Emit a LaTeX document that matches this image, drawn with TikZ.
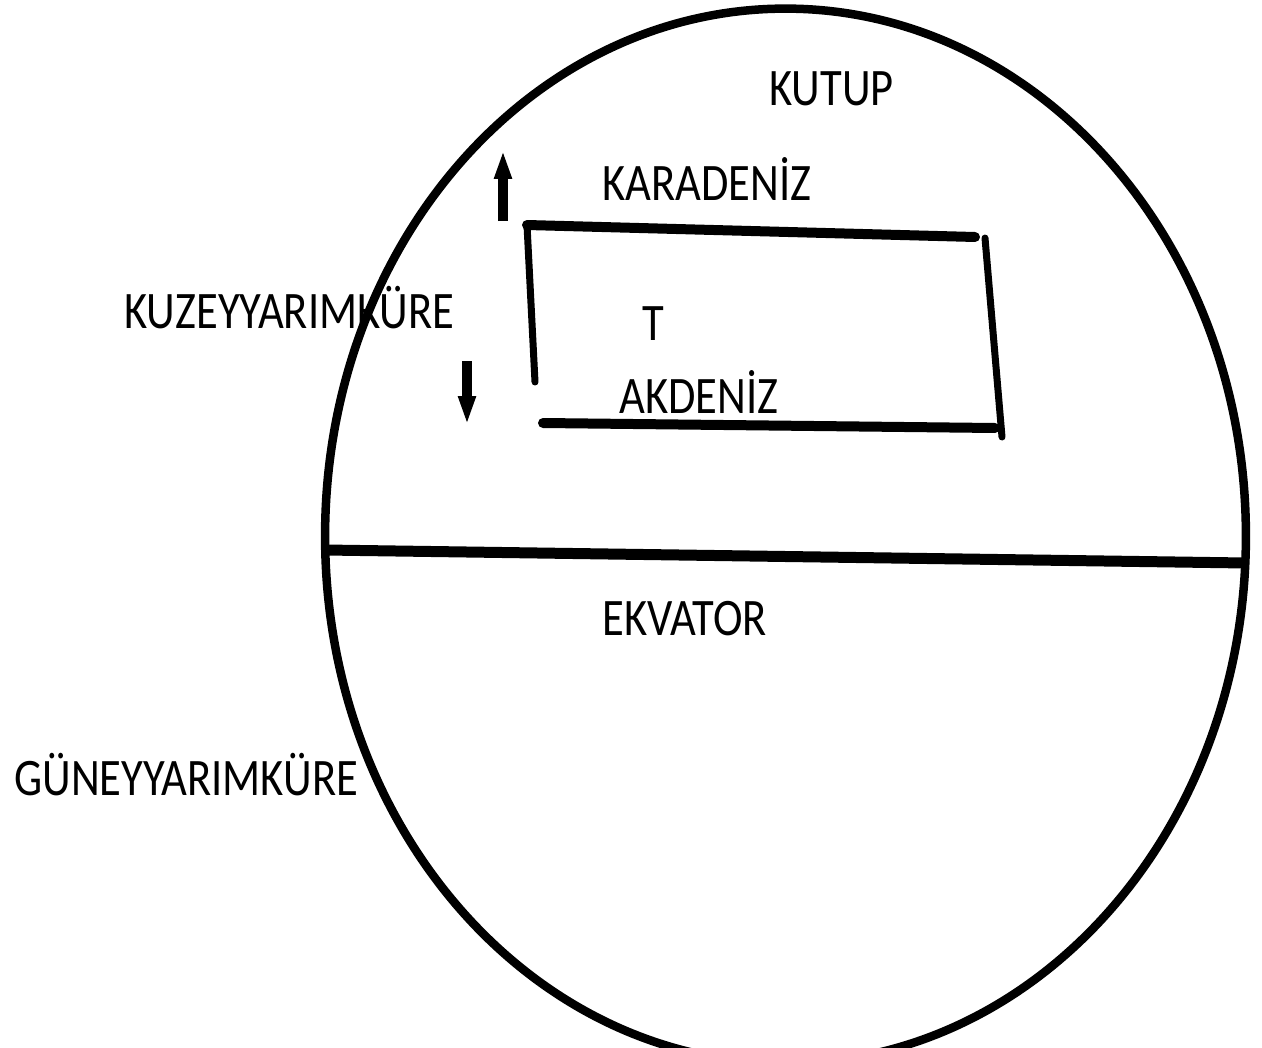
\documentclass[tikz,border=0pt]{standalone}
\usepackage{fontspec}
\newfontfamily\lblfont[FakeStretch=0.845]{Carlito}
\usetikzlibrary{arrows.meta,shapes.geometric}
\tikzset{
  lbl/.style={font=\lblfont\fontsize{30}{36}\selectfont, inner sep=0pt, anchor=base west},
  rim/.style={draw, ellipse, line width=0.17cm, inner sep=0pt},
  fat/.style={line width=0.2cm, line cap=round},
  slim/.style={line width=0.14cm, line cap=round},
  flow/.style={line width=0.19cm, -{Triangle[length=0.78cm, width=0.28cm]}}
}
\begin{document}
\begin{tikzpicture}[x=0.02cm, y=-0.02cm]
\useasboundingbox (0,0) rectangle (1262,1048);
\clip (0,0) rectangle (1262,1048);
\node[rim, minimum width=18.42cm, minimum height=21.1cm] (globe) at (785.5,536) {};
\coordinate (eqW) at (325,550);
\coordinate (eqE) at (1246,563);
\draw[fat, line width=0.22cm, line cap=butt] (eqW) -- (eqE);
\coordinate (boxNW) at (527,225);
\coordinate (boxNE) at (975,237);
\coordinate (boxEN) at (985,238);
\coordinate (boxES) at (1002,437);
\coordinate (boxSW) at (543,423);
\coordinate (boxSE) at (995,428);
\coordinate (boxWS) at (535,382);
\draw[fat] (boxNW) -- (boxNE);
\draw[fat] (boxSW) -- (boxSE);
\draw[slim] (boxNW) -- (boxWS);
\draw[slim] (boxEN) -- (boxES);
\coordinate (upFoot) at (503,221);
\coordinate (upTip) at (503,140);
\coordinate (downFoot) at (467,361);
\coordinate (downTip) at (467,435);
\draw[flow] (upFoot) -- (upTip);
\draw[flow] (downFoot) -- (downTip);
\node[lbl] (kutup) at (769,105) {KUTUP};
\node[lbl] (karadeniz) at (602,200) {KARADENİZ};
\node[lbl] (kuzey) at (124,328) {KUZEYYARIMKÜRE};
\node[lbl] (t) at (642,340) {T};
\node[lbl] (akdeniz) at (619,413) {AKDENİZ};
\node[lbl] (ekvator) at (602,635) {EKVATOR};
\node[lbl] (guney) at (14,795) {GÜNEYYARIMKÜRE};
\end{tikzpicture}
\end{document}
